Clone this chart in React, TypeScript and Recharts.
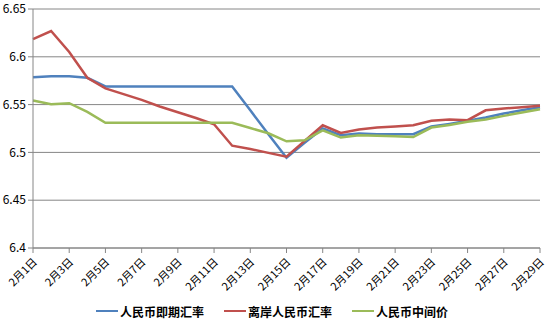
import { CartesianGrid, Legend, Line, LineChart, XAxis, YAxis } from "recharts";

const days = [
  "2月1日", "2月2日", "2月3日", "2月4日", "2月5日", "2月6日", "2月7日", "2月8日",
  "2月9日", "2月10日", "2月11日", "2月12日", "2月13日", "2月14日", "2月15日",
  "2月16日", "2月17日", "2月18日", "2月19日", "2月20日", "2月21日", "2月22日",
  "2月23日", "2月24日", "2月25日", "2月26日", "2月27日", "2月28日", "2月29日",
];

// 人民币即期汇率
const spotRate = [
  6.5787, 6.5797, 6.5797, 6.578, 6.569, 6.569, 6.569, 6.569, 6.569, 6.569,
  6.569, 6.569, 6.544, 6.519, 6.4945, 6.51, 6.525, 6.518, 6.5197, 6.519,
  6.519, 6.519, 6.527, 6.5298, 6.533, 6.5365, 6.5407, 6.544, 6.5473,
];

// 离岸人民币汇率
const offshoreRate = [
  6.6186, 6.627, 6.605, 6.578, 6.567, 6.561, 6.555, 6.548, 6.542, 6.536,
  6.5295, 6.507, 6.5035, 6.4995, 6.4956, 6.512, 6.5284, 6.5203, 6.524, 6.526,
  6.527, 6.5284, 6.533, 6.5344, 6.5337, 6.544, 6.5459, 6.5473, 6.5487,
];

// 人民币中间价
const centralRate = [
  6.5543, 6.5504, 6.5515, 6.5424, 6.531, 6.531, 6.531, 6.531, 6.531, 6.531,
  6.531, 6.531, 6.5255, 6.52, 6.5116, 6.5126, 6.523, 6.5155, 6.518, 6.5175,
  6.517, 6.516, 6.526, 6.5287, 6.532, 6.5344, 6.5382, 6.5417, 6.5452,
];

const seriesNames = ["人民币即期汇率", "离岸人民币汇率", "人民币中间价"];

const yTicks = [6.4, 6.45, 6.5, 6.55, 6.6, 6.65];

const data = days.map((day, i) => ({
  day,
  spot: spotRate[i],
  offshore: offshoreRate[i],
  central: centralRate[i],
}));

const AXIS = "#868686";
const FONT = "'Noto Sans CJK SC', 'Liberation Sans', sans-serif";

const DayTick = (props: any) => {
  const { x, y, payload } = props;
  const half = payload.offset || 0;
  return (
    <g>
      <line x1={x - half} x2={x - half} y1={y} y2={y + 5} stroke={AXIS} />
      <text
        transform={`translate(${x + 2},${y + 12}) rotate(-45)`}
        textAnchor="end"
        dy="0.35em"
        fontSize={11}
        fontFamily={FONT}
        fill="#000"
      >
        {payload.value}
      </text>
    </g>
  );
};

// legend in the same order as the series, not sorted by name
const LegendBox = (props: any) => {
  const items = [...(props.payload || [])].sort(
    (a: any, b: any) => seriesNames.indexOf(a.value) - seriesNames.indexOf(b.value)
  );
  return (
    <div
      style={{
        display: "flex",
        justifyContent: "center",
        alignItems: "center",
        height: 24,
        gap: 20,
        fontFamily: FONT,
        fontSize: 12,
        fontWeight: 700,
        color: "#000",
        paddingLeft: 4,
      }}
    >
      {items.map((entry: any) => (
        <div key={entry.value} style={{ display: "flex", alignItems: "center" }}>
          <span
            style={{
              display: "inline-block",
              width: 22,
              height: 2,
              background: entry.color,
              marginRight: 2,
            }}
          />
          <span>{entry.value}</span>
        </div>
      ))}
    </div>
  );
};

export default function App() {
  return (
    <div style={{ position: "absolute", left: 0, top: 0, background: "#fff" }}>
      <LineChart
        width={548}
        height={327}
        data={data}
        margin={{ top: 9, right: 8, left: 0, bottom: 4 }}
      >
        <CartesianGrid vertical={false} stroke={AXIS} />
        <XAxis
          dataKey="day"
          interval={1}
          height={51}
          tickSize={0}
          tickMargin={0}
          stroke={AXIS}
          tick={<DayTick />}
        />
        <YAxis
          domain={[6.4, 6.65]}
          ticks={yTicks}
          width={33}
          tickSize={5}
          tickMargin={2}
          stroke={AXIS}
          tick={{ fill: "#000", fontSize: 12, fontFamily: FONT }}
        />
        <Legend verticalAlign="bottom" height={24} content={<LegendBox />} />
        <Line
          name={seriesNames[0]}
          dataKey="spot"
          stroke="#4F81BD"
          strokeWidth={2.5}
          dot={false}
          isAnimationActive={false}
        />
        <Line
          name={seriesNames[1]}
          dataKey="offshore"
          stroke="#C0504D"
          strokeWidth={2.5}
          dot={false}
          isAnimationActive={false}
        />
        <Line
          name={seriesNames[2]}
          dataKey="central"
          stroke="#9BBB59"
          strokeWidth={2.5}
          dot={false}
          isAnimationActive={false}
        />
      </LineChart>
    </div>
  );
}
